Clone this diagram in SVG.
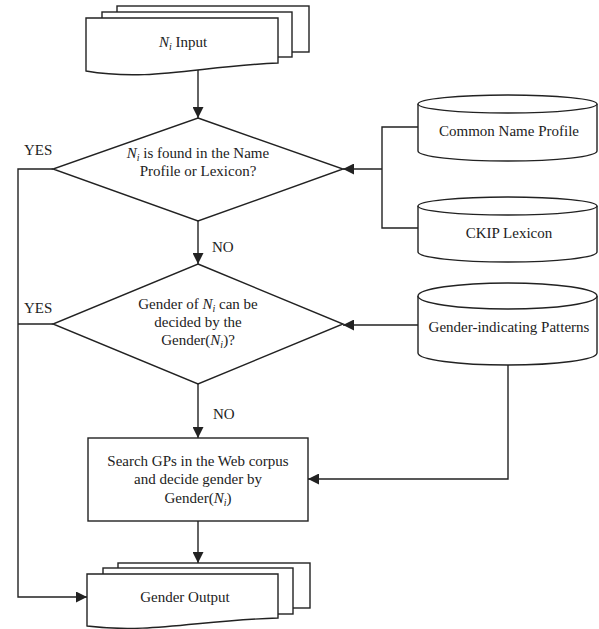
<svg xmlns="http://www.w3.org/2000/svg" width="599" height="629" viewBox="0 0 599 629">
<style>
.s{fill:#fff;stroke:#222;stroke-width:1.4}
.c{fill:none;stroke:#222;stroke-width:1.4}
text{font-family:"Liberation Serif","Times New Roman",serif;font-size:15px;fill:#222}
.m{text-anchor:middle}
.it{font-style:italic}
.sub{font-style:italic;font-size:10px}
</style>
<defs>
<marker id="ah" markerUnits="userSpaceOnUse" markerWidth="12" markerHeight="11" refX="11" refY="5.5" orient="auto">
<path d="M0,0 L11,5.5 L0,11 Z" fill="#222"/>
</marker>
</defs>
<rect width="599" height="629" fill="#fff"/>

<g id="connectors">
<path class="c" d="M198,67 V118" marker-end="url(#ah)"/>
<path class="c" d="M198,221 V264" marker-end="url(#ah)"/>
<path class="c" d="M198,384 V438" marker-end="url(#ah)"/>
<path class="c" d="M198,521 V563" marker-end="url(#ah)"/>
<path class="c" d="M53,169 H18 V597 H87" marker-end="url(#ah)"/>
<path class="c" d="M53,324 H18"/>
<path class="c" d="M418,127 H382 V228 H418"/>
<path class="c" d="M382,169 H343" marker-end="url(#ah)"/>
<path class="c" d="M418,325 H343" marker-end="url(#ah)"/>
<path class="c" d="M508,365 V479 H308" marker-end="url(#ah)"/>
</g>

<g id="input">
<rect class="s" x="117" y="6" width="192" height="46"/>
<rect class="s" x="102" y="12" width="190" height="45"/>
<path class="s" d="M86,18 H278 V63 C200,66 150,82 86,71 Z"/>
<text class="m" x="183" y="47"><tspan class="it">N</tspan><tspan class="sub" dy="3">i</tspan><tspan dy="-3"> Input</tspan></text>
</g>

<g id="decision1">
<path class="s" d="M198,118 L343,169 L198,221 L53,169 Z"/>
<text class="m" x="198" y="158"><tspan class="it">N</tspan><tspan class="sub" dy="3">i</tspan><tspan dy="-3"> is found in the Name</tspan></text>
<text class="m" x="198" y="176">Profile or Lexicon?</text>
</g>

<g id="decision2">
<path class="s" d="M198,264 L343,324 L198,384 L53,324 Z"/>
<text class="m" x="198" y="309">Gender of <tspan class="it">N</tspan><tspan class="sub" dy="3">i</tspan><tspan dy="-3"> can be</tspan></text>
<text class="m" x="198" y="327">decided by the</text>
<text class="m" x="198" y="345">Gender(<tspan class="it">N</tspan><tspan class="sub" dy="3">i</tspan><tspan dy="-3">)?</tspan></text>
</g>

<g id="search">
<rect class="s" x="88" y="438" width="220" height="83"/>
<text class="m" x="198" y="466">Search GPs in the Web corpus</text>
<text class="m" x="198" y="484">and decide gender by</text>
<text class="m" x="198" y="503">Gender(<tspan class="it">N</tspan><tspan class="sub" dy="3">i</tspan><tspan dy="-3">)</tspan></text>
</g>

<g id="output">
<rect class="s" x="118" y="563" width="192" height="45"/>
<rect class="s" x="103" y="568" width="190" height="46"/>
<path class="s" d="M87,574 H278 V618 C200,620 150,634 87,626 Z"/>
<text class="m" x="185" y="602">Gender Output</text>
</g>

<g id="cyl-common-name">
<path class="s" d="M418,104 V151 A89.5,10 0 0 0 597,151 V104"/>
<ellipse class="s" cx="507.5" cy="104" rx="89.5" ry="9"/>
<text class="m" x="509" y="136">Common Name Profile</text>
</g>

<g id="cyl-ckip">
<path class="s" d="M418,206 V252 A89.5,10 0 0 0 597,252 V206"/>
<ellipse class="s" cx="507.5" cy="206" rx="89.5" ry="9"/>
<text class="m" x="509" y="238">CKIP Lexicon</text>
</g>

<g id="cyl-patterns">
<path class="s" d="M418,296 V353 A89.5,12 0 0 0 597,353 V296"/>
<ellipse class="s" cx="507.5" cy="296" rx="89.5" ry="13"/>
<text class="m" x="509" y="332">Gender-indicating Patterns</text>
</g>

<g id="labels">
<text x="24" y="155">YES</text>
<text x="24" y="313">YES</text>
<text x="212" y="252">NO</text>
<text x="213" y="419">NO</text>
</g>
</svg>
